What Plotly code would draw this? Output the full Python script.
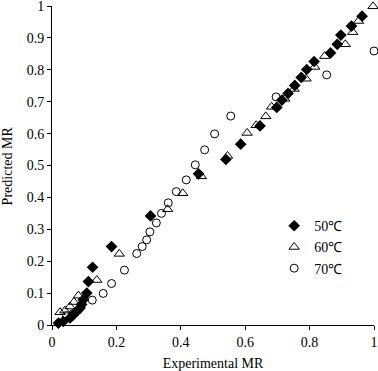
import plotly.graph_objects as go

# 50°C (filled diamonds)
exp_50 = [0.020, 0.035, 0.056, 0.066, 0.077, 0.087, 0.092, 0.097, 0.108, 0.113, 0.126,
          0.185, 0.306, 0.455, 0.540, 0.586, 0.646, 0.698, 0.714, 0.733, 0.754, 0.774,
          0.791, 0.814, 0.865, 0.886, 0.897, 0.930, 0.963]
pred_50 = [0.006, 0.011, 0.022, 0.032, 0.043, 0.053, 0.064, 0.079, 0.100, 0.136, 0.181,
           0.246, 0.342, 0.474, 0.519, 0.567, 0.624, 0.682, 0.705, 0.726, 0.751, 0.776,
           0.801, 0.826, 0.853, 0.880, 0.909, 0.937, 0.968]

# 60°C (open triangles)
exp_60 = [0.025, 0.040, 0.056, 0.068, 0.082, 0.139, 0.209, 0.359, 0.406, 0.464, 0.545,
          0.606, 0.634, 0.664, 0.682, 0.723, 0.752, 0.789, 0.816, 0.847, 0.911, 0.934,
          0.952, 0.997]
pred_60 = [0.040, 0.045, 0.058, 0.072, 0.092, 0.141, 0.223, 0.363, 0.413, 0.466, 0.530,
           0.602, 0.626, 0.654, 0.684, 0.709, 0.740, 0.772, 0.809, 0.843, 0.880, 0.918,
           0.953, 0.999]

# 70°C (open circles)
exp_70 = [0.045, 0.065, 0.125, 0.159, 0.185, 0.225, 0.263, 0.280, 0.294, 0.304, 0.324,
          0.340, 0.361, 0.386, 0.417, 0.445, 0.474, 0.505, 0.555, 0.696, 0.853, 1.000]
pred_70 = [0.030, 0.035, 0.078, 0.099, 0.130, 0.172, 0.224, 0.246, 0.267, 0.292, 0.320,
           0.350, 0.383, 0.418, 0.455, 0.502, 0.549, 0.599, 0.655, 0.715, 0.784, 0.859]

series_names = ["50\u2103", "60\u2103", "70\u2103"]
tick_vals_x = [0, 0.2, 0.4, 0.6, 0.8, 1]
tick_text_x = ["0", "0.2", "0.4", "0.6", "0.8", "1"]
tick_vals_y = [0, 0.1, 0.2, 0.3, 0.4, 0.5, 0.6, 0.7, 0.8, 0.9, 1]
tick_text_y = ["0", "0.1", "0.2", "0.3", "0.4", "0.5", "0.6", "0.7", "0.8", "0.9", "1"]
x_title = "Experimental MR"
y_title = "Predicted MR"

FONT = "Liberation Serif"

fig = go.Figure()
fig.add_trace(go.Scatter(x=exp_50, y=pred_50, mode="markers", name=series_names[0],
                         marker=dict(symbol="diamond", size=9, color="black",
                                     line=dict(width=0)), cliponaxis=False))
fig.add_trace(go.Scatter(x=exp_60, y=pred_60, mode="markers", name=series_names[1],
                         marker=dict(symbol="triangle-up-open", size=9, color="black",
                                     line=dict(width=1)), cliponaxis=False))
fig.add_trace(go.Scatter(x=exp_70, y=pred_70, mode="markers", name=series_names[2],
                         marker=dict(symbol="circle-open", size=8, color="black",
                                     line=dict(width=1)), cliponaxis=False))

fig.update_layout(
    width=378, height=371,
    margin=dict(l=52, r=4, t=6, b=46, autoexpand=False),
    paper_bgcolor="white", plot_bgcolor="white",
    font=dict(family=FONT, size=14, color="black"),
    showlegend=True,
    legend=dict(x=0.69, y=0.36, xanchor="left", yanchor="top",
                bgcolor="rgba(0,0,0,0)", borderwidth=0,
                font=dict(family=FONT, size=14), itemwidth=30, tracegroupgap=0),
    xaxis=dict(range=[0, 1], tickvals=tick_vals_x, ticktext=tick_text_x, automargin=False,
               showgrid=False, zeroline=False, showline=True, linecolor="black",
               linewidth=1, ticks="outside", ticklen=4, tickcolor="black",
               ticklabeloverflow="allow",
               title=dict(text=x_title, font=dict(family=FONT, size=14), standoff=10),
               tickfont=dict(family=FONT, size=14)),
    yaxis=dict(range=[0, 1], tickvals=tick_vals_y, ticktext=tick_text_y, automargin=False,
               showgrid=False, zeroline=False, showline=True, linecolor="black",
               linewidth=1, ticks="outside", ticklen=4, tickcolor="black",
               ticklabeloverflow="allow",
               tickfont=dict(family=FONT, size=14)),
    annotations=[dict(text=y_title, xref="paper", yref="paper", x=-0.137, y=0.5,
                      xanchor="center", yanchor="middle", textangle=-90, showarrow=False,
                      font=dict(family=FONT, size=14))],
)

fig.write_html("out.html", config={"displayModeBar": False},
               post_script="document.body.style.margin='0';document.body.style.overflow='hidden';")
